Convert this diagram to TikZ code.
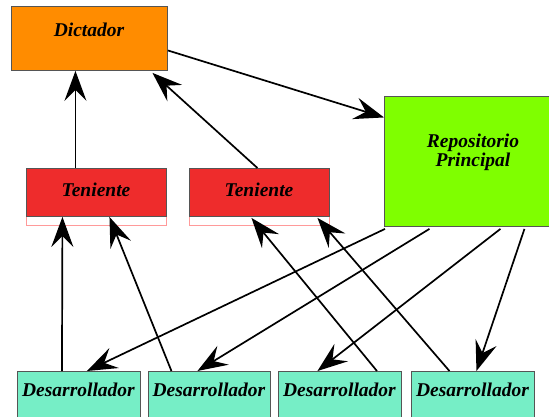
\documentclass[tikz,border=0pt]{standalone}
\usepackage{fontspec}
\setmainfont{Liberation Serif}
\usetikzlibrary{arrows.meta,calc}
\definecolor{dictc}{HTML}{FF8C00}
\definecolor{tenc}{HTML}{EE2C2C}
\definecolor{repoc}{HTML}{7FFF00}
\definecolor{devc}{HTML}{76EEC6}
\definecolor{edgec}{HTML}{555555}
\definecolor{pinkc}{HTML}{FF9A9A}
\tikzset{
  box/.style={draw=edgec, line width=0.9pt, anchor=north west, inner sep=0pt},
  lbl/.style={font=\fontsize{19.5}{16}\selectfont\bfseries\itshape, align=center, inner sep=0pt},
  arr/.style={line width=1.7pt, -{Stealth[length=30pt,width=22pt,inset=11pt]}},
}
\begin{document}
\begin{tikzpicture}[x=1pt,y=-1pt]
\useasboundingbox (0,0) rectangle (549,416);
% boxes
\node[box, fill=dictc, minimum width=156pt, minimum height=64pt] (dict) at (11,6) {};
\node[lbl] at (89,30) {Dictador};
\draw[pinkc, line width=0.9pt] (26,168) rectangle (166,225);
\draw[pinkc, line width=0.9pt] (189,168) rectangle (329,225);
\node[box, fill=tenc, minimum width=140pt, minimum height=48pt] (t1) at (26,168) {};
\node[lbl] at (96,190) {Teniente};
\node[box, fill=tenc, minimum width=140pt, minimum height=48pt] (t2) at (189,168) {};
\node[lbl] at (259,190) {Teniente};
\node[box, fill=repoc, minimum width=170pt, minimum height=130pt] (repo) at (384,96) {};
\node[lbl] at (473,152) {Repositorio\\Principal};
\node[box, fill=devc, minimum width=123pt, minimum height=60pt] (d1) at (17,371) {};
\node[lbl] at (78.5,390) {Desarrollador};
\node[box, fill=devc, minimum width=122pt, minimum height=60pt] (d2) at (148,371) {};
\node[lbl] at (209,390) {Desarrollador};
\node[box, fill=devc, minimum width=123pt, minimum height=60pt] (d3) at (278,371) {};
\node[lbl] at (339.5,390) {Desarrollador};
\node[box, fill=devc, minimum width=123pt, minimum height=60pt] (d4) at (411,371) {};
\node[lbl] at (472.5,390) {Desarrollador};
% arrows
\draw[arr] ([xshift=-21pt]t1.north) -- ([xshift=-14pt]dict.south);
\draw[arr] ([xshift=-2pt]t2.north) -- ([xshift=63pt,yshift=-2pt]dict.south);
\draw[arr] ([yshift=-12pt]dict.east) -- ([yshift=44pt]repo.west);
\draw[arr] ([xshift=-17pt]d1.north) -- ([xshift=-34pt]t1.south);
\draw[arr] ([xshift=-38pt]d2.north) -- ([xshift=13pt]t1.south);
\draw[arr] ([xshift=37pt]d3.north) -- ([xshift=-8pt,yshift=-1pt]t2.south);
\draw[arr] ([xshift=-23.5pt]d4.north) -- ([xshift=58pt,yshift=-1pt]t2.south);
\draw[arr] ([xshift=1pt,yshift=-2pt]repo.south west) -- ([xshift=8pt]d1.north);
\draw[arr] ([xshift=-40pt,yshift=-2pt]repo.south) -- ([xshift=-12pt]d2.north);
\draw[arr] ([xshift=31pt,yshift=-2pt]repo.south) -- ([xshift=-22.5pt]d3.north);
\draw[arr] ([xshift=55pt,yshift=-2pt]repo.south) -- ([xshift=3.5pt]d4.north);
\end{tikzpicture}
\end{document}
